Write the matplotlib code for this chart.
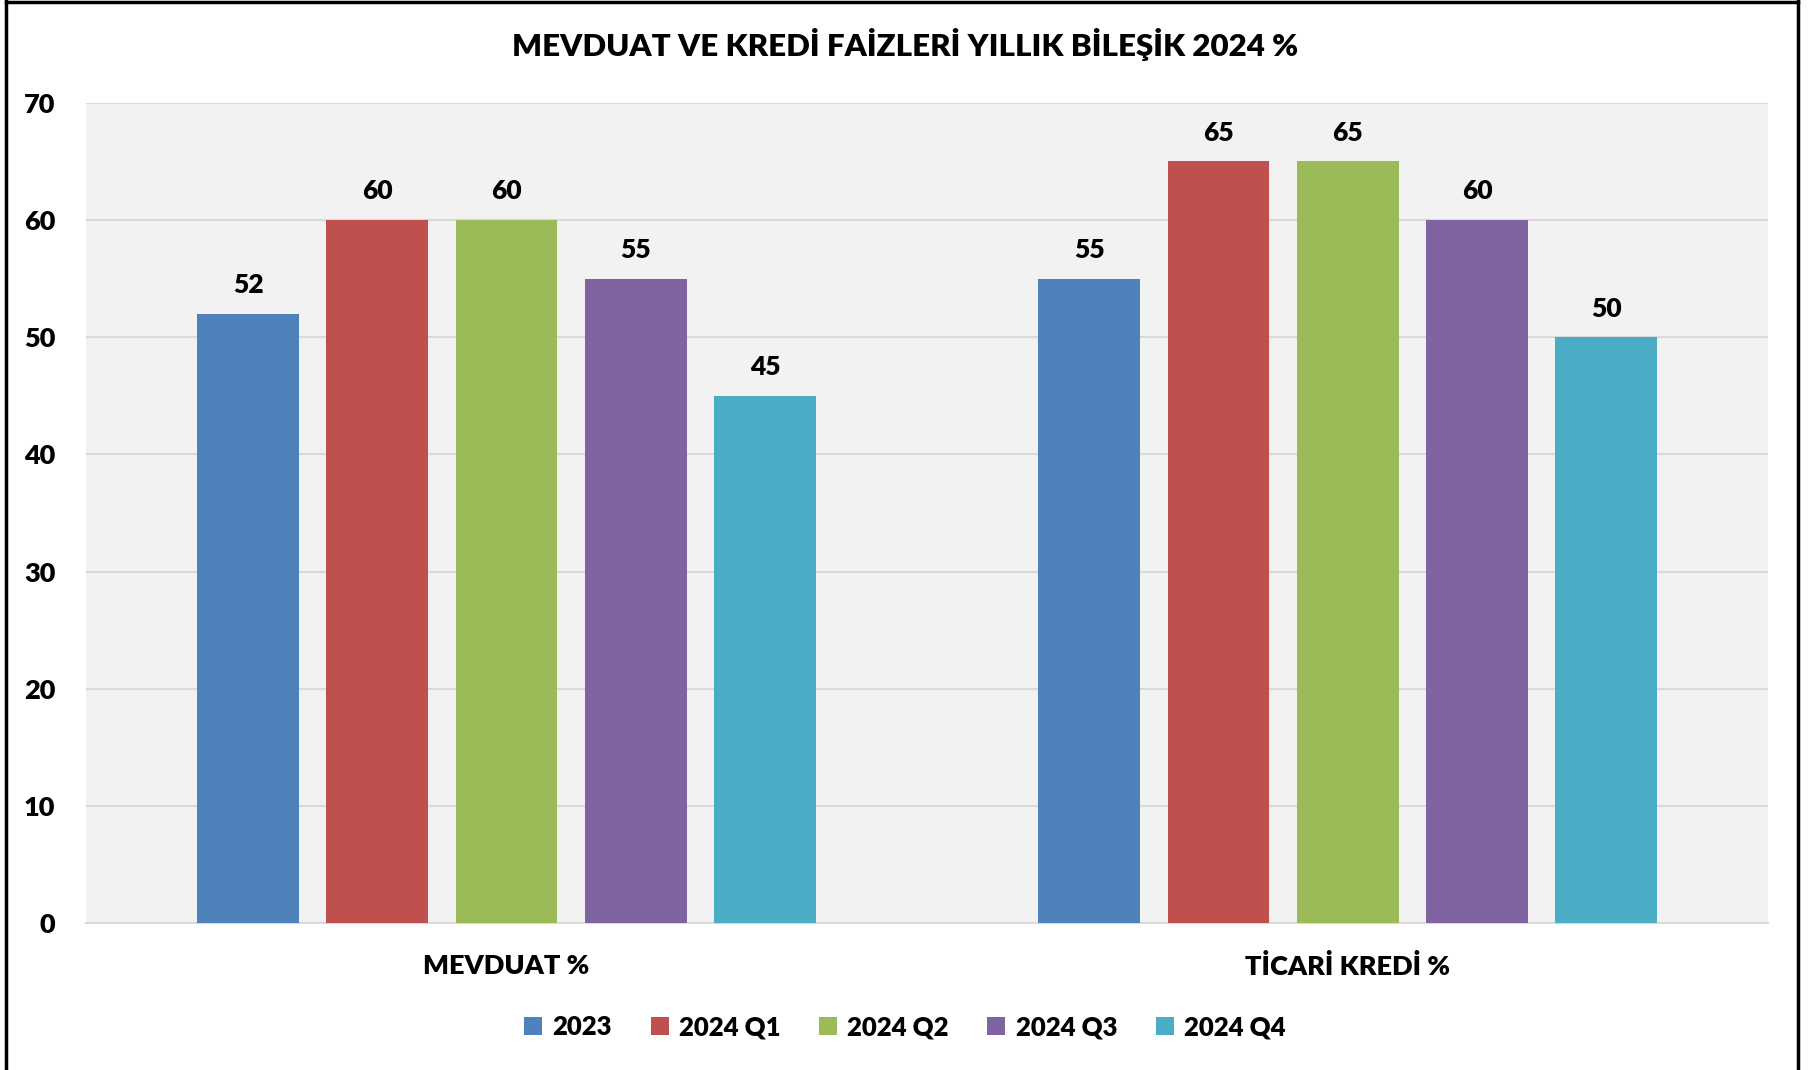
import numpy as np
import matplotlib
matplotlib.use("Agg")
from matplotlib import pyplot as plt
from matplotlib.lines import Line2D

plt.rcParams['font.family'] = ['Lato', 'DejaVu Sans']
plt.rcParams['font.weight'] = 'heavy'

# Veriler
kategoriler = ["MEVDUAT %", "TİCARİ KREDİ %"]
donemler = ["2023", "2024 Q1", "2024 Q2", "2024 Q3", "2024 Q4"]
mevduat = [52, 60, 60, 55, 45]
ticari_kredi = [55, 65, 65, 60, 50]
renkler = ["#4f81bd", "#c0504d", "#9bbb59", "#8064a2", "#4bacc6"]
yticks = [0, 10, 20, 30, 40, 50, 60, 70]

degerler = np.array([mevduat, ticari_kredi])

fig = plt.figure(figsize=(18.1, 10.7), dpi=100)
ax = fig.add_axes([0.0475, 0.137, 0.9295, 0.767])
ax.set_facecolor("#f2f2f2")

x = np.arange(len(kategoriler))
adim = 0.1537
genislik = 0.121
for i, d in enumerate(donemler):
    konum = x + (i - 2) * adim
    bars = ax.bar(konum, degerler[:, i], width=genislik, color=renkler[i], label=d, zorder=3)
    for b, v in zip(bars, degerler[:, i]):
        ax.annotate(str(v), (b.get_x() + b.get_width() / 2, v), xytext=(0, 12),
                    textcoords="offset points", ha="center", va="bottom",
                    fontsize=19, fontweight="heavy")

ax.set_xlim(-0.5, 1.5)
ax.set_ylim(0, 70)
ax.set_yticks(yticks)
ax.set_yticklabels([str(t) for t in yticks], fontsize=19.5, fontweight="heavy")
ax.set_xticks(x)
ax.set_xticklabels(kategoriler, fontsize=19.5, fontweight="heavy")
ax.tick_params(axis="both", length=0)
ax.tick_params(axis="y", pad=22)
ax.tick_params(axis="x", pad=22)
ax.grid(axis="y", color="#d9d9d9", linewidth=1.5, zorder=0)
for s in ["top", "right", "left"]:
    ax.spines[s].set_visible(False)
ax.spines["bottom"].set_color("#d9d9d9")
ax.spines["bottom"].set_linewidth(1.5)

fig.text(0.5, 0.958, "MEVDUAT VE KREDİ FAİZLERİ YILLIK BİLEŞİK 2024 %", ha="center", va="center",
         fontsize=22.5, fontweight="heavy")

fig.legend(loc="center", bbox_to_anchor=(0.5, 0.04), ncol=5, frameon=False,
           handlelength=0.7, handleheight=0.7, handletextpad=0.4,
           columnspacing=1.5, prop={"weight": "heavy", "size": 18.5})

# Çerçeve
fig.add_artist(Line2D([0.0035, 0.0035], [0, 0.9995], color="black", lw=2.5, transform=fig.transFigure))
fig.add_artist(Line2D([0.0035, 0.9935], [0.9985, 0.9985], color="black", lw=2.5, transform=fig.transFigure))
fig.add_artist(Line2D([0.9935, 0.9935], [0, 0.9995], color="black", lw=2.5, transform=fig.transFigure))

fig.savefig("out.png", dpi=100, facecolor="white")
